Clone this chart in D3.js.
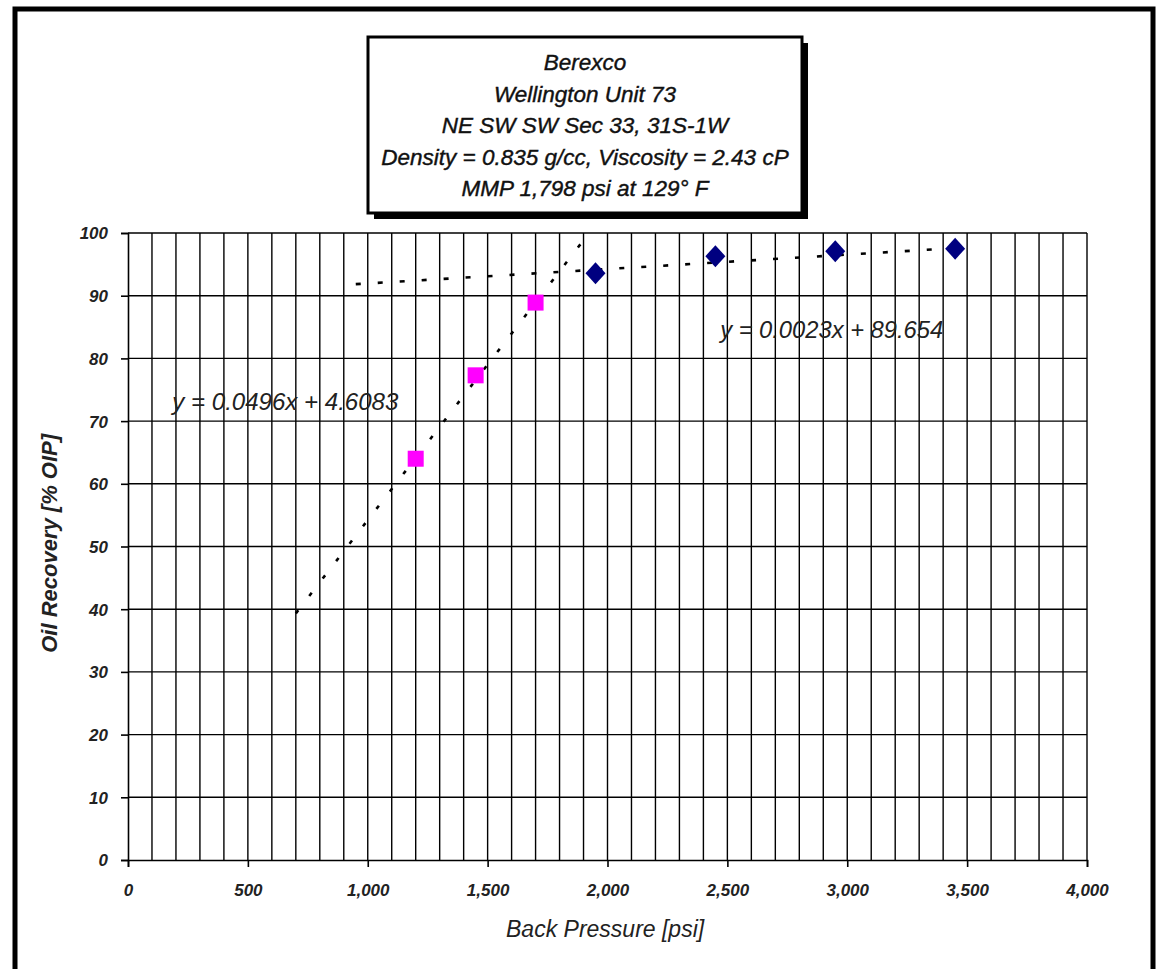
<!DOCTYPE html>
<html>
<head>
<meta charset="utf-8">
<title>Berexco Wellington Unit 73 MMP</title>
<script src="https://cdn.jsdelivr.net/npm/d3@7/dist/d3.min.js"></script>
<style>
  body { margin: 0; background: #fff; }
  svg text { font-family: "Liberation Sans", Arial, sans-serif; font-style: italic; }
</style>
</head>
<body>
<svg width="1165" height="969" id="mainsvg"></svg>
<script>
// data
const squareX = [1200, 1450, 1700]
const squareY = [64.0, 77.3, 88.9]
const diamondX = [1950, 2450, 2950, 3450]
const diamondY = [93.6, 96.3, 97.1, 97.5]
const trend1 = {slope: 0.0496, intercept: 4.6083, from: 700, label: 'y = 0.0496x + 4.6083'}
const trend2 = {slope: 0.0023, intercept: 89.654, from: 950, to: 3500, label: 'y = 0.0023x + 89.654'}
const xTicks = [0, 500, 1000, 1500, 2000, 2500, 3000, 3500, 4000]
const yTicks = [0, 10, 20, 30, 40, 50, 60, 70, 80, 90, 100]
const titleLines = ['Berexco', 'Wellington Unit 73', 'NE SW SW Sec 33, 31S-1W',
  'Density = 0.835 g/cc, Viscosity = 2.43 cP', 'MMP 1,798 psi at 129° F']

const svg = d3.select('svg')
const margin = {top: 233, right: 78, bottom: 109, left: 128}
const width = +svg.attr('width')
const height = +svg.attr('height')
const innerWidth = width - margin.left - margin.right
const innerHeight = height - margin.top - margin.bottom

// outer frame
svg.append('path')
  .attr('d', 'M15,975 L15,9 L1153,9 L1153,975')
  .attr('fill', 'none').attr('stroke', '#000').attr('stroke-width', 5)

const xScale = d3.scaleLinear().domain([0, 4000]).range([0, innerWidth])
const yScale = d3.scaleLinear().domain([0, 100]).range([innerHeight, 0])

const g = svg.append('g').attr('transform', `translate(${margin.left}, ${margin.top})`)

// grid
g.selectAll('line.vgrid')
  .data(d3.range(100, 4001, 100))
  .join('line')
  .attr('class', 'vgrid')
  .attr('x1', d => xScale(d)).attr('x2', d => xScale(d))
  .attr('y1', 0).attr('y2', innerHeight)
  .attr('stroke', '#000').attr('stroke-width', 1.4)
g.selectAll('line.hgrid')
  .data(yTicks.slice(1))
  .join('line')
  .attr('class', 'hgrid')
  .attr('x1', 0).attr('x2', innerWidth)
  .attr('y1', d => yScale(d)).attr('y2', d => yScale(d))
  .attr('stroke', '#000').attr('stroke-width', 1.4)

// axes
const xAxis = d3.axisBottom(xScale).tickValues(xTicks).tickSize(7).tickPadding(17)
  .tickFormat(d3.format(','))
const yAxis = d3.axisLeft(yScale).tickValues(yTicks).tickSize(7).tickPadding(13)
const xAxisGroup = g.append('g').attr('transform', `translate(0, ${innerHeight})`).call(xAxis)
const yAxisGroup = g.append('g').call(yAxis)
;[xAxisGroup, yAxisGroup].forEach(ax => {
  ax.select('.domain').attr('stroke', '#000').attr('stroke-width', 1.6)
  ax.selectAll('.tick line').attr('stroke', '#000').attr('stroke-width', 1.6)
  ax.selectAll('.tick text')
    .attr('fill', '#222')
    .style('font-size', '17px')
    .style('font-weight', 'bold')
})
yAxisGroup.selectAll('.tick text').attr('dy', '0.35em')

// trend lines
const line = d3.line().x(d => xScale(d[0])).y(d => yScale(d[1]))
const end1 = (100 - trend1.intercept) / trend1.slope
g.append('path')
  .datum([[trend1.from, trend1.slope * trend1.from + trend1.intercept], [end1, 100]])
  .attr('d', line)
  .attr('fill', 'none').attr('stroke', '#000').attr('stroke-width', 2.6)
  .attr('stroke-dasharray', '4,18')
g.append('path')
  .datum([[trend2.from, trend2.slope * trend2.from + trend2.intercept],
          [trend2.to, trend2.slope * trend2.to + trend2.intercept]])
  .attr('d', line)
  .attr('fill', 'none').attr('stroke', '#000').attr('stroke-width', 2.6)
  .attr('stroke-dasharray', '5,17')

// markers
const squares = squareX.map((x, i) => [x, squareY[i]])
const diamonds = diamondX.map((x, i) => [x, diamondY[i]])
g.selectAll('rect.sq')
  .data(squares)
  .join('rect')
  .attr('class', 'sq')
  .attr('x', d => xScale(d[0]) - 8).attr('y', d => yScale(d[1]) - 8)
  .attr('width', 16).attr('height', 16)
  .attr('fill', '#ff00ff')
g.selectAll('path.dia')
  .data(diamonds)
  .join('path')
  .attr('class', 'dia')
  .attr('transform', d => `translate(${xScale(d[0])}, ${yScale(d[1])})`)
  .attr('d', 'M0,-11 L10,0 L0,11 L-10,0 Z')
  .attr('fill', '#000080')

// equation labels
g.append('text')
  .attr('x', xScale(185)).attr('y', yScale(71.8))
  .attr('font-size', 23.5).attr('fill', '#222')
  .attr('textLength', 226).attr('lengthAdjust', 'spacingAndGlyphs')
  .text(trend1.label)
g.append('text')
  .attr('x', xScale(2470)).attr('y', yScale(83.3))
  .attr('font-size', 23.5).attr('fill', '#222')
  .attr('textLength', 223).attr('lengthAdjust', 'spacingAndGlyphs')
  .text(trend2.label)

// axis titles
svg.append('text')
  .attr('x', margin.left + xScale(1990)).attr('y', 937)
  .attr('text-anchor', 'middle').attr('font-size', 23).attr('fill', '#222')
  .text('Back Pressure [psi]')
svg.append('text')
  .attr('transform', `translate(57, ${margin.top + yScale(50.5)}) rotate(-90)`)
  .attr('text-anchor', 'middle').attr('font-size', 22).attr('font-weight', 'bold').attr('fill', '#222')
  .text('Oil Recovery [% OIP]')

// title box with shadow
const box = {x: 368, y: 37, w: 434, h: 176}
svg.append('rect')
  .attr('x', box.x + 6).attr('y', box.y + 6).attr('width', box.w).attr('height', box.h)
  .attr('fill', '#000')
svg.append('rect')
  .attr('x', box.x).attr('y', box.y).attr('width', box.w).attr('height', box.h)
  .attr('fill', '#fff').attr('stroke', '#000').attr('stroke-width', 3)
svg.selectAll('text.title')
  .data(titleLines)
  .join('text')
  .attr('class', 'title')
  .attr('x', box.x + box.w / 2)
  .attr('y', (d, i) => 70 + i * 31.5)
  .attr('text-anchor', 'middle').attr('font-size', 22.5).attr('fill', '#111')
  .attr('stroke', '#111').attr('stroke-width', 0.4)
  .text(d => d)
</script>
</body>
</html>
